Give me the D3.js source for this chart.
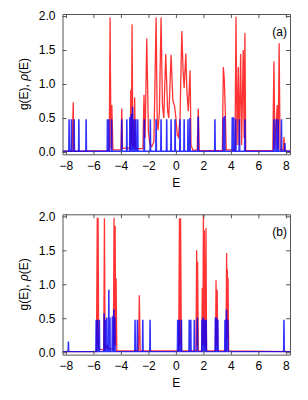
<!DOCTYPE html>
<html>
<head>
<meta charset="utf-8">
<script src="https://cdn.jsdelivr.net/npm/d3@7"></script>
<style>
  body { margin: 0; background: #fff; }
  text { font-family: "Liberation Sans", Arial, sans-serif; fill: #000; }
</style>
</head>
<body>
<script>
var xTicks = [-8, -6, -4, -2, 0, 2, 4, 6, 8],
    yTicks = [0, 0.5, 1.0, 1.5, 2.0];

// panel (a): blue g(E) spikes [E, height]
var gA = [[-7.77,0.47],[-7.6,0.47],[-7.40,0.47],[-7.06,0.47],[-6.53,0.47],
  [-4.98,0.47],[-4.88,0.47],[-4.68,0.47],[-3.94,0.47],[-3.57,0.47],[-3.35,0.5],
  [-3.25,0.55],[-3.15,0.65],[-3.05,0.47],[-2.92,0.47],[-2.78,0.47],[-2.3,0.47],
  [-1.86,0.47],[-1.44,0.47],[-1.08,0.47],[-0.67,0.47],[-0.35,0.47],[-0.06,0.47],
  [0.3,0.47],[0.6,0.47],[0.88,0.47],[1.02,0.49],[1.62,0.51],[2.84,0.47],
  [3.45,0.5],[3.55,0.52],[4.1,0.5],[4.2,0.5],[4.35,0.48],[4.62,0.47],[5.02,0.47],
  [7.13,0.47],[7.3,0.47],[7.44,0.47],[7.68,0.47],[7.93,0.12]];

// panel (a): red rho(E) curve [E, value]
var rhoA = [[-8.25,0.01],[-7.55,0.01],[-7.47,0.73],[-7.42,0.01],[-4.85,0.02],
  [-4.79,1.98],[-4.72,0.05],[-4.66,0.69],[-4.58,0.03],[-4.0,0.03],[-3.94,0.64],
  [-3.88,0.05],[-3.6,0.06],[-3.32,0.05],[-3.28,0.91],[-3.24,0.1],[-3.19,1.88],
  [-3.13,0.05],[-3.04,0.1],[-3.0,0.80],[-2.95,0.05],[-2.4,0.05],[-2.32,0.84],
  [-2.24,0.2],[-2.12,1.67],[-2.0,0.3],[-1.9,0.12],[-1.75,0.08],[-1.6,0.15],
  [-1.44,1.98],[-1.36,0.45],[-1.3,0.32],[-1.2,0.6],[-1.08,1.98],[-0.98,0.7],
  [-0.88,0.5],[-0.74,1.44],[-0.6,0.6],[-0.52,0.5],[-0.35,1.43],[-0.22,0.75],
  [-0.1,0.68],[0.0,0.5],[0.1,0.25],[0.18,0.22],[0.3,0.5],[0.43,1.78],[0.52,1.2],
  [0.6,0.94],[0.72,1.45],[0.8,0.9],[0.9,0.6],[1.03,1.2],[1.1,0.1],[1.25,0.02],
  [1.55,0.03],[1.63,0.64],[1.7,0.02],[3.38,0.02],[3.45,1.25],[3.52,1.07],
  [3.59,0.62],[3.66,0.03],[4.3,0.03],[4.37,1.99],[4.45,0.1],[4.54,1.25],[4.6,0.1],
  [4.71,1.44],[4.78,0.1],[4.9,1.5],[4.96,0.2],[5.02,1.75],[5.08,0.02],[7.05,0.02],
  [7.13,1.33],[7.2,0.05],[7.37,0.69],[7.44,0.05],[7.51,1.6],[7.58,0.03],[7.82,0.03],
  [7.86,0.22],[7.92,0.02],[8.3,0.01]];

// panel (b): blue g(E) spikes
var gB = [[-7.82,0.15],[-5.80,0.47],[-5.71,0.47],[-5.57,0.47],[-5.22,0.56],
  [-5.12,0.47],[-5.03,0.5],[-4.88,0.91],[-4.80,0.5],[-4.62,0.52],[-4.52,0.62],
  [-4.44,0.5],[-2.97,0.47],[-2.80,0.47],[-2.41,0.47],[-1.88,0.47],[0.13,0.47],
  [0.25,0.47],[0.40,0.47],[0.97,0.47],[1.08,0.47],[1.34,0.47],[1.56,0.5],
  [1.90,0.47],[1.98,0.5],[2.05,0.47],[2.12,0.47],[2.2,0.47],[2.87,0.5],[2.95,0.5],
  [3.05,0.47],[3.57,0.47],[3.68,0.62],[3.78,0.47],[7.86,0.47]];

// panel (b): red rho(E) curve
var rhoB = [[-8.25,0.01],[-5.78,0.01],[-5.72,1.98],[-5.69,0.1],[-5.66,1.98],
  [-5.62,0.05],[-5.25,0.03],[-5.2,1.97],[-5.15,0.05],[-5.0,0.1],[-4.9,0.05],
  [-4.55,0.05],[-4.5,1.98],[-4.46,0.1],[-4.42,1.86],[-4.38,0.1],[-4.35,1.09],
  [-4.3,0.02],[-2.72,0.02],[-2.66,0.84],[-2.6,0.02],[0.2,0.02],[0.26,1.97],
  [0.3,0.1],[0.34,1.97],[0.4,0.02],[1.46,0.02],[1.51,1.5],[1.55,0.1],[1.58,1.33],
  [1.63,0.02],[1.88,0.02],[1.92,0.95],[1.96,0.1],[2.0,2.02],[2.04,0.1],[2.07,1.79],
  [2.11,0.05],[2.15,0.05],[2.19,1.83],[2.23,0.02],[2.88,0.02],[2.92,1.06],
  [2.96,0.1],[3.0,0.92],[3.05,0.02],[3.64,0.02],[3.69,1.46],[3.72,0.2],[3.74,1.22],
  [3.77,0.2],[3.79,1.1],[3.84,0.02],[8.3,0.01]];

var panels = [
  {label: "(a)", g: gA, rho: rhoA, top: 14},
  {label: "(b)", g: gB, rho: rhoB, top: 214.3}
];

var W = 308, H = 400;
var svg = d3.select("body").append("svg")
    .attr("width", W).attr("height", H);

var x = d3.scaleLinear().domain([-8.25, 8.3]).range([62.5, 290]);
var frameCol = "#555";

panels.forEach(function(p) {
  var y = d3.scaleLinear().domain([-0.035, 2.03]).range([p.top + 140.3, p.top]);
  var g = svg.append("g");
  var line = d3.line().x(function(d) { return x(d[0]); }).y(function(d) { return y(d[1]); });

  // clip to the frame
  var cid = "clip" + p.label.replace(/\W/g, "");
  svg.append("clipPath").attr("id", cid).append("rect")
      .attr("x", x.range()[0]).attr("y", p.top)
      .attr("width", x.range()[1] - x.range()[0]).attr("height", 140.3);
  var plot = g.append("g").attr("clip-path", "url(#" + cid + ")");

  // red rho(E)
  plot.append("path")
      .attr("d", line(p.rho))
      .attr("fill", "none")
      .attr("stroke", "rgba(255,0,0,0.8)")
      .attr("stroke-width", 1.3);

  // blue g(E): baseline then spikes
  var pts = [[-8.25, 0.01]];
  p.g.forEach(function(s) {
    pts.push([s[0] - 0.03, 0.01], [s[0] - 0.01, s[1]], [s[0] + 0.01, s[1]], [s[0] + 0.03, 0.01]);
  });
  pts.push([8.3, 0.01]);
  plot.append("path")
      .attr("d", line(pts))
      .attr("fill", "none")
      .attr("stroke", "rgba(0,0,255,0.8)")
      .attr("stroke-width", 1.3);

  // axes with inward ticks on all sides
  var bottom = g.append("g").attr("transform", "translate(0," + y.range()[0] + ")")
      .call(d3.axisBottom(x).tickValues(xTicks).tickSizeInner(-4).tickSizeOuter(0)
        .tickPadding(7).tickFormat(function(d) { return d3.format("")(d).replace("-", "\u2212"); }));
  var topAx = g.append("g").attr("transform", "translate(0," + p.top + ")")
      .call(d3.axisTop(x).tickValues(xTicks).tickSizeInner(-4).tickSizeOuter(0).tickFormat(""));
  var left = g.append("g").attr("transform", "translate(" + x.range()[0] + ",0)")
      .call(d3.axisLeft(y).tickValues(yTicks).tickSizeInner(-4).tickSizeOuter(0)
        .tickPadding(7).tickFormat(d3.format(".1f")));
  var right = g.append("g").attr("transform", "translate(" + x.range()[1] + ",0)")
      .call(d3.axisRight(y).tickValues(yTicks).tickSizeInner(-4).tickSizeOuter(0).tickFormat(""));
  [bottom, topAx, left, right].forEach(function(a) {
    a.select(".domain").attr("stroke", frameCol);
    a.selectAll(".tick line").attr("stroke", frameCol);
    a.selectAll("text").attr("font-size", 12).attr("fill", "#000")
      .attr("font-family", "Liberation Sans, Arial, sans-serif");
  });

  // axis titles
  g.append("text")
      .attr("x", (x.range()[0] + x.range()[1]) / 2 - 0)
      .attr("y", p.top + 173)
      .attr("text-anchor", "middle")
      .attr("font-size", 12)
      .text("E");
  var yl = g.append("text")
      .attr("transform", "translate(28," + (p.top + 70) + ") rotate(-90)")
      .attr("text-anchor", "middle")
      .attr("font-size", 12);
  yl.append("tspan").text("g(E), ");
  yl.append("tspan").attr("font-style", "italic").text("\u03c1");
  yl.append("tspan").text("(E)");

  // panel label
  g.append("text")
      .attr("x", 287).attr("y", p.top + 22)
      .attr("text-anchor", "end")
      .attr("font-size", 12)
      .text(p.label);
});
</script>
</body>
</html>
